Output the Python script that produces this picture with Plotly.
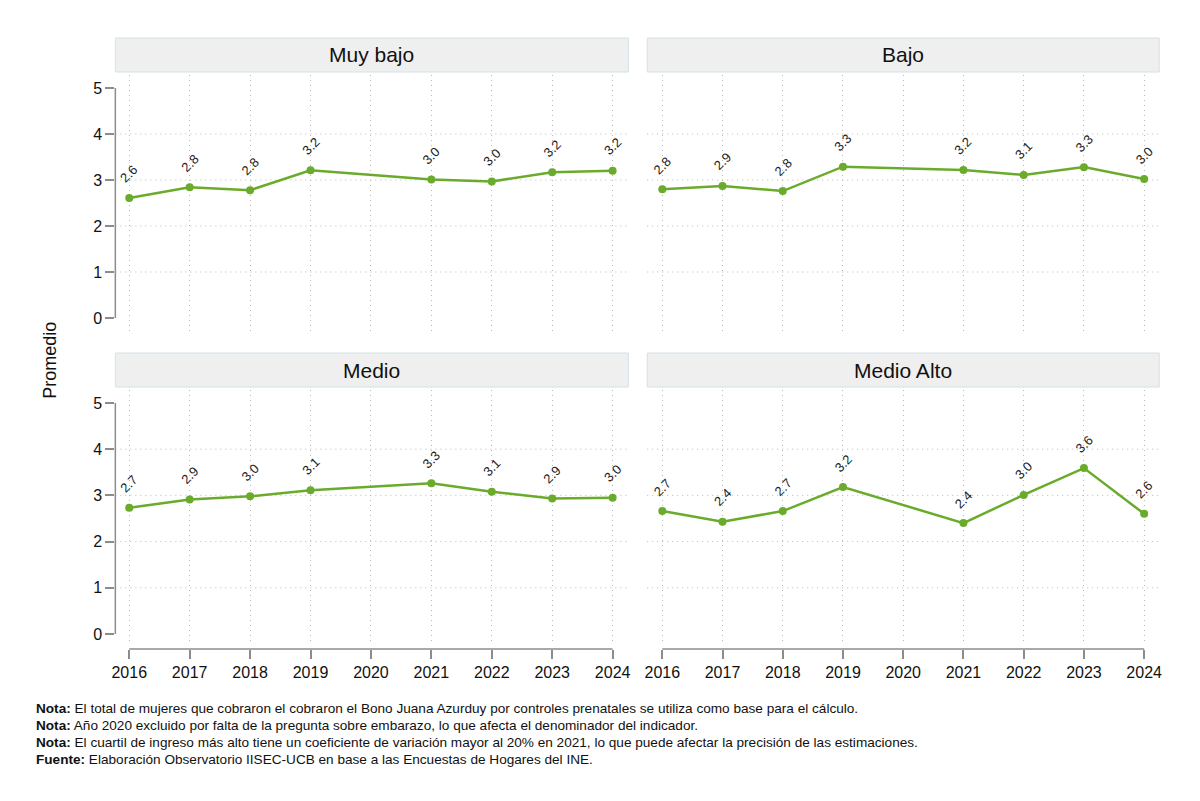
import plotly.graph_objects as go

years = [2016, 2017, 2018, 2019, 2021, 2022, 2023, 2024]
tick_years = [2016, 2017, 2018, 2019, 2020, 2021, 2022, 2023, 2024]
panels = ["Muy bajo", "Bajo", "Medio", "Medio Alto"]
muy_bajo = [2.61, 2.84, 2.78, 3.21, 3.01, 2.97, 3.17, 3.20]
bajo = [2.80, 2.87, 2.76, 3.29, 3.22, 3.11, 3.28, 3.02]
medio = [2.73, 2.91, 2.98, 3.11, 3.26, 3.08, 2.93, 2.95]
medio_alto = [2.66, 2.43, 2.66, 3.18, 2.40, 3.01, 3.59, 2.60]
series = [muy_bajo, bajo, medio, medio_alto]
y_ticks = [0, 1, 2, 3, 4, 5]
grid_y = [1, 2, 3, 4]
notes = [
    "<b>Nota:</b> El total de mujeres que cobraron el cobraron el Bono Juana Azurduy por controles prenatales se utiliza como base para el cálculo.",
    "<b>Nota:</b> Año 2020 excluido por falta de la pregunta sobre embarazo, lo que afecta el denominador del indicador.",
    "<b>Nota:</b> El cuartil de ingreso más alto tiene un coeficiente de variación mayor al 20% en 2021, lo que puede afectar la precisión de las estimaciones.",
    "<b>Fuente:</b> Elaboración Observatorio IISEC-UCB en base a las Encuestas de Hogares del INE.",
]

W, H = 1200, 801
FONT = "Liberation Sans, Arial, sans-serif"
GREEN = "#6aab2c"
GRID = "#b8b8b8"
AXIS = "#8c8c8c"
DOT = "1px,4px"

def px(x):
    return x / W

def py(y):
    return 1 - y / H

# pixel layout
xdom = [(112, 628), (647, 1162)]
ydom = [(75, 333), (390, 643)]
xranges = [(2015.77, 2024.26), (2015.75, 2024.25)]
yranges = [(-0.326, 5.283), (-0.195, 5.28)]
strips_y = [(38, 72), (353, 387)]
xaxis_line_y = 649

fig = go.Figure()
shapes = []
annotations = []

for i, (name, vals) in enumerate(zip(panels, series)):
    r, c = divmod(i, 2)
    n = i + 1
    xa = "x" if n == 1 else f"x{n}"
    ya = "y" if n == 1 else f"y{n}"
    fig.add_trace(go.Scatter(
        x=years, y=vals, mode="lines+markers", xaxis=xa, yaxis=ya,
        line=dict(color=GREEN, width=2.5), marker=dict(color=GREEN, size=8),
        showlegend=False, hoverinfo="x+y",
    ))
    xkey = "xaxis" if n == 1 else f"xaxis{n}"
    ykey = "yaxis" if n == 1 else f"yaxis{n}"
    xd = [px(xdom[c][0]), px(xdom[c][1])]
    yd = [py(ydom[r][1]), py(ydom[r][0])]
    xaxis = dict(
        domain=xd, range=list(xranges[c]), tickvals=tick_years,
        showgrid=True, gridcolor=GRID, griddash=DOT, gridwidth=1,
        zeroline=False, showline=False, fixedrange=True,
    )
    if r == 1:
        xaxis.update(anchor="free", position=py(xaxis_line_y), ticks="outside",
                     ticklen=9, tickcolor=AXIS, tickwidth=1.5,
                     showticklabels=True,
                     tickfont=dict(family=FONT, size=16, color="#111"))
    else:
        xaxis.update(anchor=ya, ticks="", showticklabels=False)
    yaxis = dict(
        domain=yd, range=list(yranges[r]), anchor=xa, tickvals=y_ticks,
        showgrid=False, zeroline=False, showline=False, fixedrange=True,
    )
    if c == 0:
        yaxis.update(ticks="outside", ticklen=9, tickcolor=AXIS, tickwidth=1.5,
                     showticklabels=True,
                     tickfont=dict(family=FONT, size=16, color="#111"))
    else:
        yaxis.update(ticks="", showticklabels=False)
    fig.update_layout({xkey: xaxis, ykey: yaxis})

    # horizontal dotted gridlines
    for g in grid_y:
        shapes.append(dict(type="line", xref=f"{xa} domain", yref=ya,
                           x0=0, x1=1, y0=g, y1=g,
                           line=dict(color=GRID, width=1, dash=DOT), layer="below"))
    # y axis line
    if c == 0:
        shapes.append(dict(type="line", xref=f"{xa} domain", yref=ya,
                           x0=0, x1=0, y0=y_ticks[0], y1=y_ticks[-1],
                           line=dict(color=AXIS, width=1.5)))
    # x axis line
    if r == 1:
        shapes.append(dict(type="line", xref=xa, yref="paper",
                           x0=tick_years[0], x1=tick_years[-1],
                           y0=py(xaxis_line_y), y1=py(xaxis_line_y),
                           line=dict(color=AXIS, width=1.5)))
    # strip
    shapes.append(dict(type="rect", xref="paper", yref="paper",
                       x0=px(xdom[c][0]), x1=px(xdom[c][1]),
                       y0=py(strips_y[r][1]), y1=py(strips_y[r][0]),
                       fillcolor="#efefef", line=dict(color="#d3e2e9", width=1)))
    annotations.append(dict(text=name, xref="paper", yref="paper",
                            x=(px(xdom[c][0]) + px(xdom[c][1])) / 2,
                            y=(py(strips_y[r][0]) + py(strips_y[r][1])) / 2,
                            xanchor="center", yanchor="middle", showarrow=False,
                            font=dict(family=FONT, size=21, color="#111")))
    # data labels
    for xv, yv in zip(years, vals):
        annotations.append(dict(text=f"{yv:.1f}", x=xv, y=yv, xref=xa, yref=ya,
                                showarrow=False, textangle=-45, yshift=24,
                                xanchor="center", yanchor="middle",
                                font=dict(family=FONT, size=13, color="#222")))

# y axis title
annotations.append(dict(text="Promedio", xref="paper", yref="paper",
                        x=px(46), y=py(360), textangle=-90, showarrow=False,
                        xanchor="center", yanchor="middle",
                        font=dict(family=FONT, size=18, color="#111")))

# notes
for k, t in enumerate(notes):
    annotations.append(dict(text=t, xref="paper", yref="paper",
                            x=px(30), y=py(708 + 17 * k), xanchor="left", yanchor="middle",
                            align="left", showarrow=False,
                            font=dict(family=FONT, size=13.6, color="#111")))

fig.update_layout(
    width=W, height=H, margin=dict(l=0, r=0, t=0, b=0),
    paper_bgcolor="white", plot_bgcolor="white",
    shapes=shapes, annotations=annotations, showlegend=False,
)

fig.write_html("out.html")
